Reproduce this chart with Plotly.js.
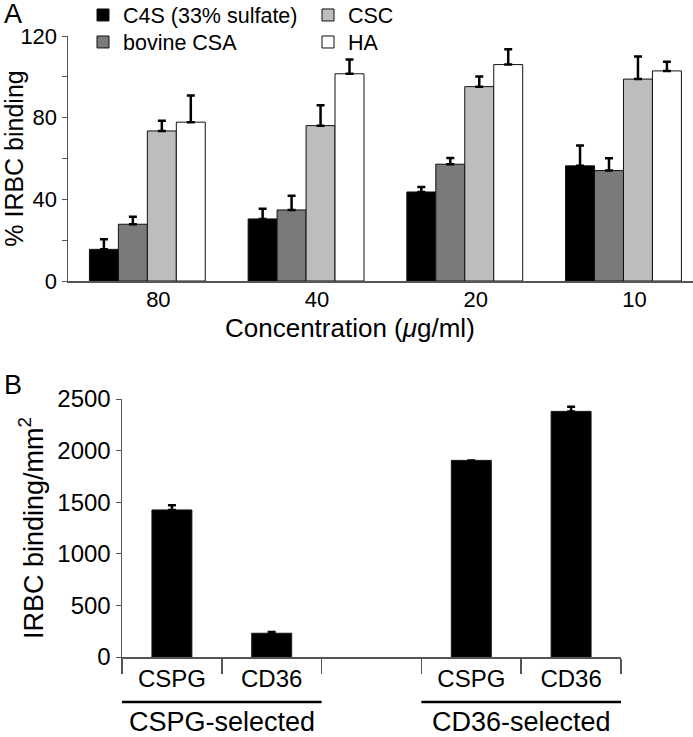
<!DOCTYPE html>
<html>
<head>
<meta charset="utf-8">
<script src="https://cdn.plot.ly/plotly-3.0.1.min.js"></script>
<style>html,body{margin:0;padding:0;background:#fff;}#chart{width:693px;height:737px;}</style>
</head>
<body>
<div id="chart"></div>
<script>
// ---- Panel A data ----
const concentrations = ["80", "40", "20", "10"];
const seriesNames = ["C4S (33% sulfate)", "bovine CSA", "CSC", "HA"];
const c4sValues = [15.5, 30.4, 43.6, 56.4];
const c4sErrors = [5, 5, 2.5, 10];
const csaValues = [27.8, 34.8, 57.2, 54.1];
const csaErrors = [3.7, 7, 3, 6];
const cscValues = [73.5, 76.1, 95.2, 98.9];
const cscErrors = [5, 10, 5, 11];
const haValues = [77.8, 101.5, 106.0, 102.9];
const haErrors = [13, 7, 7.5, 4.5];
const aYTicks = [0, 40, 80, 120];

// ---- Panel B data ----
const bTickLabels = ["CSPG", "CD36", "", "CSPG", "CD36"];
const bGroups = ["CSPG-selected", "CSPG-selected", "", "CD36-selected", "CD36-selected"];
const bValues = [1425, 230, null, 1905, 2380];
const bErrors = [45, 12, 0, 0, 45];
const bYTicks = [0, 500, 1000, 1500, 2000, 2500];

const FONT = "Liberation Sans, Arial, Helvetica, sans-serif";
const W = 693, H = 737;
const px = v => v / W;
const py = v => 1 - v / H;

function errUp(arr) {
  return {type: "data", symmetric: false, array: arr, arrayminus: arr.map(() => 0),
          color: "#000", thickness: 2.5, width: 4, visible: true};
}

const colorsA = ["#000000", "#7a7a7a", "#bdbdbd", "#ffffff"];
const valsA = [c4sValues, csaValues, cscValues, haValues];
const errsA = [c4sErrors, csaErrors, cscErrors, haErrors];
const legendIds = ["legend", "legend2", "legend3", "legend4"];
// legend box positions (left x, row centre y) in pixels
const legendPos = [[83, 15], [83, 42], [308, 15], [308, 42]];

const traces = valsA.map((v, i) => ({
  type: "bar", name: seriesNames[i], x: concentrations, y: v,
  xaxis: "x", yaxis: "y", legend: legendIds[i],
  marker: {color: colorsA[i], line: {color: "#111", width: 1}},
  error_y: errUp(errsA[i]), hoverinfo: "none"
}));

const bKeys = bTickLabels.map((t, i) => (bGroups[i] || "gap") + "|" + t + "|" + i);
traces.push({
  type: "bar", name: "IRBC binding", x: bKeys, y: bValues, width: 0.4,
  xaxis: "x2", yaxis: "y2", showlegend: false,
  marker: {color: "#000", line: {color: "#111", width: 1}},
  error_y: errUp(bErrors), hoverinfo: "none"
});

// group labels and underlines for panel B
const groupNames = [...new Set(bGroups.filter(g => g))];
const annotations = [];
const shapes = [];
groupNames.forEach(g => {
  const idx = bGroups.map((v, i) => v === g ? i : -1).filter(i => i >= 0);
  const i0 = Math.min(...idx), i1 = Math.max(...idx);
  shapes.push({type: "line", xref: "x2", yref: "paper", x0: i0 - 0.5, x1: i1 + 0.5,
               y0: py(702), y1: py(702), line: {color: "#000", width: 2.5}});
  annotations.push({xref: "x2", yref: "paper", x: (i0 + i1) / 2, y: py(722),
                    text: g, showarrow: false, xanchor: "center", yanchor: "middle",
                    font: {family: FONT, size: 27, color: "#000"}});
});
annotations.push({xref: "paper", yref: "paper", x: px(2), y: py(14), xanchor: "left", yanchor: "middle",
                  text: "A", showarrow: false, font: {family: FONT, size: 27, color: "#000"}});
annotations.push({xref: "paper", yref: "paper", x: px(2), y: py(385), xanchor: "left", yanchor: "middle",
                  text: "B", showarrow: false, font: {family: FONT, size: 27, color: "#000"}});
annotations.push({xref: "paper", yref: "paper", x: px(350), y: py(328), xanchor: "center", yanchor: "middle",
                  text: "Concentration (<i>μ</i>g/ml)", showarrow: false, font: {family: FONT, size: 26, color: "#000"}});

const axisLine = {showline: true, linecolor: "#555", linewidth: 1.5, showgrid: false, zeroline: false};

const layout = {
  width: W, height: H,
  margin: {l: 0, r: 0, t: 0, b: 0, pad: 0, autoexpand: false},
  paper_bgcolor: "#fff", plot_bgcolor: "#fff",
  font: {family: FONT, color: "#000"},
  barmode: "group", bargap: 0.27, bargroupgap: 0,
  xaxis: Object.assign({}, axisLine, {
    domain: [px(68), 1], anchor: "y", type: "category",
    range: [-0.5, 3.438], ticks: "", tickfont: {size: 22},
    ticklabelstandoff: -2, ticklabelshift: 11
  }),
  yaxis: Object.assign({}, axisLine, {
    domain: [py(281), py(36)], anchor: "x", range: [0, 120],
    tickmode: "array", tickvals: aYTicks, ticks: "outside", ticklen: 5, tickcolor: "#555",
    tickfont: {size: 22}, ticklabelstandoff: 0,
    minor: {dtick: 20, ticks: "outside", ticklen: 5, tickcolor: "#555"},
    title: {text: "% IRBC binding", font: {size: 25}, standoff: 8}
  }),
  xaxis2: Object.assign({}, axisLine, {
    domain: [px(122), px(621)], anchor: "y2", type: "category",
    categoryorder: "array", categoryarray: bKeys, range: [-0.5, 4.5],
    tickmode: "array", tickvals: bKeys, ticktext: bTickLabels,
    tickson: "boundaries", ticks: "outside", ticklen: 15, tickcolor: "#555", tickwidth: 1.5,
    tickfont: {size: 24}
  }),
  yaxis2: Object.assign({}, axisLine, {
    domain: [py(657), py(399)], anchor: "x2", range: [0, 2500],
    tickmode: "array", tickvals: bYTicks, ticks: "outside", ticklen: 5, tickcolor: "#555",
    tickfont: {size: 24},
    title: {text: "IRBC binding/mm<sup>2</sup>", font: {size: 27}, standoff: 6}
  }),
  shapes: shapes,
  annotations: annotations
};

legendIds.forEach((id, i) => {
  layout[id] = {x: px(legendPos[i][0]), xanchor: "left", y: py(legendPos[i][1]), yanchor: "middle",
                font: {size: 21.5}, bgcolor: "rgba(0,0,0,0)", orientation: "v"};
});

Plotly.newPlot("chart", traces, layout, {staticPlot: true, displayModeBar: false});
</script>
</body>
</html>
